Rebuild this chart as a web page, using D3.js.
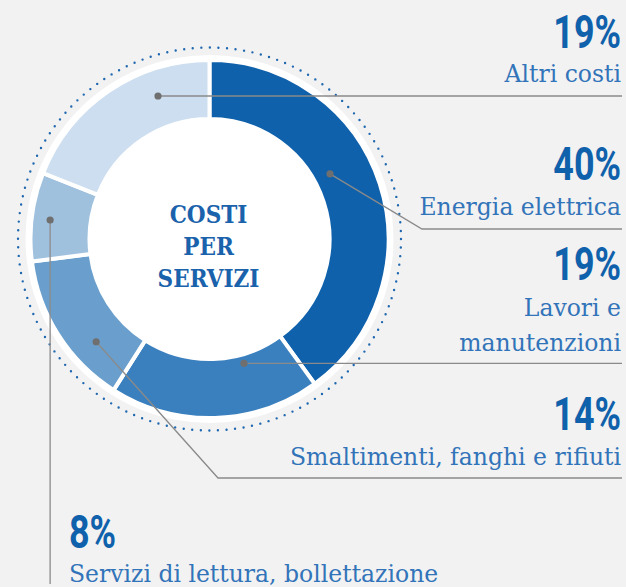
<!DOCTYPE html>
<html>
<head>
<meta charset="utf-8">
<script src="https://cdn.jsdelivr.net/npm/d3@7/dist/d3.min.js"></script>
<style>
  html, body { margin: 0; padding: 0; background: #f2f2f2; }
  svg { display: block; }
</style>
</head>
<body>
<svg id="chart" width="626" height="587"></svg>
<script>
// Costi per servizi: quote percentuali per voce di spesa
const categories = [
  "Energia elettrica",
  "Lavori e manutenzioni",
  "Smaltimenti, fanghi e rifiuti",
  "Servizi di lettura, bollettazione",
  "Altri costi"
];
const values = [40, 19, 14, 8, 19];
const labelLines = [
  ["Energia elettrica"],
  ["Lavori e", "manutenzioni"],
  ["Smaltimenti, fanghi e rifiuti"],
  ["Servizi di lettura, bollettazione"],
  ["Altri costi"]
];
const centerTitle = ["COSTI", "PER", "SERVIZI"];
const sliceColors = ["#1061ab", "#3b80be", "#6a9fcd", "#9fc1de", "#cddef0"];

// Layout of the callouts (anchor angle/radius on the ring, text position, leader route)
const callouts = [
  { angle: 61.6, r: 137, side: "right", x: 621, pctY: 180, textY: 215, route: "diag", lineY: 229, bendX: 422 },
  { angle: 164.5, r: 129, side: "right", x: 621, pctY: 280, textY: 316, route: "flat", lineY: 363 },
  { angle: 227.8, r: 153, side: "right", x: 621, pctY: 430, textY: 465, route: "diag", lineY: 478, bendX: 218 },
  { angle: 276.8, r: 160.5, side: "left", x: 69, pctY: 548, textY: 582, route: "down", lineY: 584 },
  { angle: 340.2, r: 152, side: "right", x: 621, pctY: 48, textY: 82, route: "flat", lineY: 96.5 }
];

const W = 626, H = 587;
const cx = 209.5, cy = 239;
const rInner = 120, rOuter = 179;
const lineRight = 622;

const svg = d3.select("#chart");
svg.append("rect").attr("width", W).attr("height", H).attr("fill", "#f2f2f2");

const g = svg.append("g").attr("transform", `translate(${cx},${cy})`);

// dotted halo
g.append("circle")
  .attr("r", 191.5)
  .attr("fill", "none")
  .attr("stroke", "#1f68b0")
  .attr("stroke-width", 2.4)
  .attr("stroke-linecap", "round")
  .attr("stroke-dasharray", `0 ${(2 * Math.PI * 191.5) / 140}`);

// white backing ring
g.append("circle").attr("r", 184).attr("fill", "#ffffff");

const pie = d3.pie().sort(null).value(d => d);
const arcs = pie(values);
const arc = d3.arc().innerRadius(rInner).outerRadius(rOuter);

g.selectAll("path.slice")
  .data(arcs)
  .join("path")
  .attr("class", "slice")
  .attr("d", arc)
  .attr("fill", (d, i) => sliceColors[i])
  .attr("stroke", "#ffffff")
  .attr("stroke-width", 4)
  .attr("stroke-linejoin", "miter");

// inner hole
g.append("circle").attr("r", rInner - 1).attr("fill", "#ffffff");

// centre title
g.selectAll("text.title")
  .data(centerTitle)
  .join("text")
  .attr("class", "title")
  .attr("x", -1)
  .attr("y", (d, i) => -16 + i * 32)
  .attr("text-anchor", "middle")
  .attr("font-family", "'DejaVu Serif Condensed', 'DejaVu Serif', serif")
  .attr("font-weight", "bold")
  .attr("font-size", 24)
  .attr("fill", "#1a62ab")
  .text(d => d);

// leaders
const toXY = (deg, r) => {
  const a = deg * Math.PI / 180;
  return [cx + r * Math.sin(a), cy - r * Math.cos(a)];
};

const leaders = svg.append("g");
callouts.forEach((c, i) => {
  const [px, py] = toXY(c.angle, c.r);
  let pts;
  if (c.route === "flat") pts = [[px, py], [lineRight, py]];
  else if (c.route === "diag") pts = [[px, py], [c.bendX, c.lineY], [lineRight, c.lineY]];
  else pts = [[px, py], [px, c.lineY]];
  leaders.append("path")
    .attr("d", d3.line()(pts))
    .attr("fill", "none")
    .attr("stroke", "#8a8a8a")
    .attr("stroke-width", 1.3);
  leaders.append("circle")
    .attr("cx", px).attr("cy", py).attr("r", 3.6)
    .attr("fill", "#6f6f6f");
});

// callout texts
const labels = svg.append("g");
callouts.forEach((c, i) => {
  const anchor = c.side === "right" ? "end" : "start";
  labels.append("text")
    .attr("transform", `translate(${c.x},${c.pctY}) scale(0.78,1)`)
    .attr("text-anchor", anchor)
    .attr("font-family", "Roboto, 'Noto Sans', sans-serif")
    .attr("font-weight", "bold")
    .attr("font-size", 46)
    .attr("fill", "#1061ab")
    .text(values[i] + "%");
  const lines = labelLines[i];
  lines.forEach((t, j) => {
    labels.append("text")
      .attr("x", c.x)
      .attr("y", c.textY + j * 34.5)
      .attr("text-anchor", anchor)
      .attr("font-family", "'DejaVu Serif', serif")
      .attr("font-size", 23.5)
      .attr("fill", "#3274b9")
      .text(t);
  });
});
</script>
</body>
</html>
